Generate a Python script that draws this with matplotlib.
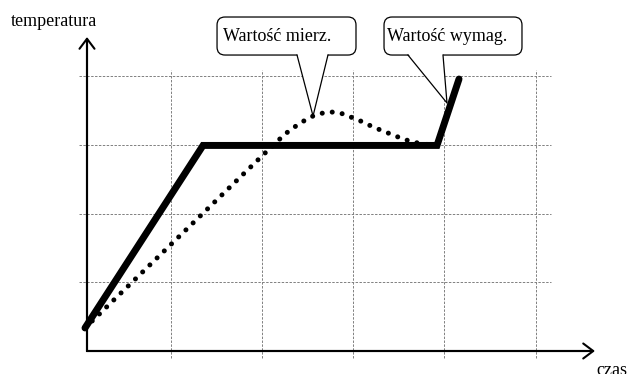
import matplotlib.pyplot as plt
from matplotlib.patches import FancyBboxPatch, Polygon

plt.rcParams['font.family'] = ['Liberation Serif', 'DejaVu Serif']

# wartość wymagana (zadana) - czas / temperatura w jednostkach siatki
czas_wymag = [-0.022, 1.275, 3.846, 4.088]
temp_wymag = [0.335, 2.99, 2.99, 3.956]

# wartość mierzona
czas_mierz = [-0.022, 1.934, 2.176, 2.341, 2.484, 2.593, 2.703, 2.824, 2.923,
              3.033, 3.143, 3.253, 3.363, 3.473, 3.582, 3.692, 3.846]
temp_mierz = [0.335, 2.851, 3.156, 3.316, 3.418, 3.462, 3.476, 3.447, 3.389,
              3.331, 3.258, 3.200, 3.142, 3.084, 3.040, 3.011, 2.989]

# linie siatki
siatka_x = [0.923, 1.923, 2.923, 3.923, 4.934]
siatka_y = [1, 2, 3, 4]

ASPEKT = 91 / 68.75  # stosunek skali osi y do osi x


def dymek(ax, x0, x1, y0, y1, baza, grot, tekst, tx):
    """Dymek z opisem i trójkątnym wskaźnikiem."""
    box = FancyBboxPatch((x0, y0), x1 - x0, y1 - y0,
                         boxstyle='round,pad=0,rounding_size=0.088',
                         mutation_aspect=ASPEKT, fc='white', ec='black',
                         lw=0.9, zorder=3)
    ax.add_patch(box)
    # biały klin zasłania dolną krawędź ramki
    ax.add_patch(Polygon([(baza[0], y0 + 0.02), (baza[1], y0 + 0.02), grot],
                         closed=True, fc='white', ec='none', zorder=3.1))
    ax.plot([baza[0], grot[0], baza[1]], [y0, grot[1], y0],
            color='black', lw=0.9, zorder=3.2)
    ax.text(tx, (y0 + y1) / 2, tekst, ha='left', va='center',
            fontsize=13, zorder=3.3)


fig = plt.figure(figsize=(6.29, 3.74), dpi=100)
ax = fig.add_axes([0, 0, 1, 1])
ax.set_xlim(-87 / 91, 542 / 91)
ax.set_ylim(-23 / 68.75, 351 / 68.75)
ax.axis('off')

# siatka
ax.vlines(siatka_x, -0.102, 4.087, color='#808080', lw=0.7,
          linestyles=(0, (2.5, 1.5)), zorder=1)
ax.hlines(siatka_y, -0.088, 5.099, color='#808080', lw=0.7,
          linestyles=(0, (2.5, 1.5)), zorder=1)

# osie ze strzałkami
ax.plot([0, 0, 5.5], [4.5, 0, 0], color='black', lw=1.5,
        solid_joinstyle='miter', zorder=2)
strzalka = dict(arrowstyle='->,head_length=0.72,head_width=0.54', lw=1.5,
                color='black', shrinkA=0, shrinkB=0, mutation_scale=10)
ax.annotate('', xy=(0, 4.567), xytext=(0, 0), arrowprops=strzalka)
ax.annotate('', xy=(5.582, 0), xytext=(0, 0), arrowprops=strzalka)

ax.text(-0.835, 4.727, 'temperatura', fontsize=13, ha='left', va='baseline')
ax.text(5.593, -0.349, 'czas', fontsize=13, ha='left', va='baseline')

# dymki
dymek(ax, 1.429, 2.956, 4.305, 4.858, (2.308, 2.648), (2.484, 3.418),
      'Wartość mierz.', 1.495)
dymek(ax, 3.264, 4.780, 4.305, 4.858, (3.527, 3.912), (3.956, 3.607),
      'Wartość wymag.', 3.297)

# przebiegi
ax.plot(czas_mierz, temp_mierz, color='black', lw=3.6,
        linestyle=(0, (0.01, 2.0)), dash_capstyle='round', zorder=4)
ax.plot(czas_wymag, temp_wymag, color='black', lw=5,
        solid_capstyle='round', solid_joinstyle='miter', zorder=5)

fig.savefig('out.png', dpi=100)
